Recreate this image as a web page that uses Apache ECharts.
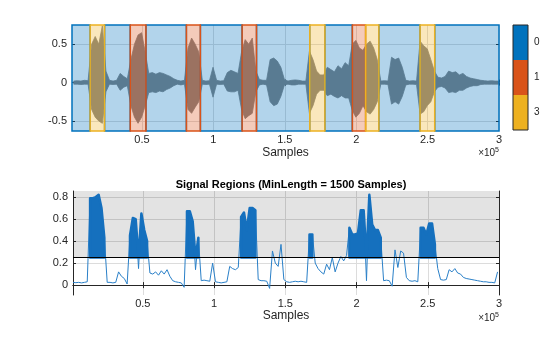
<!DOCTYPE html>
<html><head><meta charset="utf-8">
<script src="https://cdn.jsdelivr.net/npm/echarts@6/dist/echarts.min.js"></script>
<style>html,body{margin:0;padding:0;background:#fff}#c{width:560px;height:337px}</style>
</head><body><div id="c"></div>
<script>
// ---------- axes ----------
const xRange = [1000, 300000];
const xTicks = [50000, 100000, 150000, 200000, 250000, 300000];
const xTickLabels = ['0.5', '1', '1.5', '2', '2.5', '3'];
const topYRange = [-0.63, 0.75];
const topYTicks = [-0.5, 0, 0.5];
const topYTickLabels = ['-0.5', '0', '0.5'];
const bottomYRange = [-0.09, 0.855];
const bottomYTicks = [0, 0.2, 0.4, 0.6, 0.8];
const bottomYTickLabels = ['0', '0.2', '0.4', '0.6', '0.8'];
const xLabel = 'Samples';
const xExponent = '5';
const titleText = 'Signal Regions (MinLength = 1500 Samples)';

// ---------- top: waveform (per-bin max / min) ----------
const waveStart = 1000, waveStep = 2500;
const waveUpper = [0.02,0.025,0.02,0.03,0.025, 0.5,0.6,0.5,0.74,0.15, 0.03,0.02,0.03, 0.12,0.08,0.05,
  0.3,0.5,0.62,0.65,0.4, 0.12,0.13,0.11,0.13,0.12,0.1,0.08,0.05, 0.03,0.02,0.03, 0.45,0.58,0.5,0.4,
  0.03,0.02,0.025, 0.2, 0.03,0.02,0.025, 0.13,0.16,0.14,0.12, 0.4,0.56,0.5,0.58,0.15, 0.04,0.03,0.03,
  0.3,0.32,0.28,0.2, 0.04,0.02,0.03,0.035,0.03,0.02,0.02, 0.41,0.3,0.15,0.1,0.1,
  0.2,0.17,0.14,0.22,0.18,0.26,0.22, 0.5,0.55,0.45,0.42, 0.5,0.54,0.45,0.3, 0.02,0.025,0.02,
  0.33,0.3,0.32,0.2,0.03, 0.02,0.025,0.02, 0.54,0.48,0.44,0.3,0.15, 0.07,0.06,0.08,
  0.15,0.13,0.14,0.1,0.12,0.08, 0.06,0.05,0.04, 0.03,0.025,0.02,0.025,0.02,0.02];
const waveLower = [-0.02,-0.02,-0.025,-0.02,-0.02, -0.35,-0.45,-0.5,-0.53,-0.12, -0.02,-0.025,-0.02, -0.1,-0.06,-0.04,
  -0.3,-0.45,-0.53,-0.45,-0.3, -0.13,-0.12,-0.13,-0.11,-0.12,-0.09,-0.07,-0.04, -0.02,-0.03,-0.02, -0.35,-0.4,-0.32,-0.25,
  -0.02,-0.025,-0.02, -0.19, -0.02,-0.025,-0.02, -0.11,-0.12,-0.12,-0.1, -0.35,-0.47,-0.43,-0.4,-0.12, -0.03,-0.02,-0.03,
  -0.25,-0.3,-0.28,-0.18, -0.03,-0.02,-0.03,-0.03,-0.02,-0.02,-0.02, -0.4,-0.3,-0.15,-0.1,-0.1,
  -0.17,-0.15,-0.18,-0.2,-0.17,-0.2,-0.2, -0.36,-0.45,-0.4,-0.3, -0.38,-0.41,-0.35,-0.25, -0.02,-0.02,-0.025,
  -0.28,-0.25,-0.28,-0.18,-0.03, -0.02,-0.02,-0.025, -0.41,-0.38,-0.3,-0.25,-0.12, -0.06,-0.05,-0.07,
  -0.13,-0.12,-0.13,-0.1,-0.1,-0.07, -0.05,-0.04,-0.04, -0.025,-0.02,-0.02,-0.02,-0.02,-0.02];

// ---------- top: labelled regions ----------
const regionEdges = [1000, 13700, 23800, 41800, 52800, 81100, 90900, 120100, 130200, 167500, 178100,
  197300, 206600, 215900, 244700, 255000, 300000];
const regionLabels = [0, 3, 0, 1, 0, 1, 0, 1, 0, 3, 0, 1, 3, 0, 3, 0];
const labelNames = ['0', '1', '3'];
const labelColors = ['#0072BD', '#D95319', '#EDB120'];

// ---------- bottom: envelope ----------
const envStart = 1000, envStep = 2000;
const envelope = [0.025,0.022,0.025,0.02,0.025, 0.03, 0.79,0.79,0.80,0.82,0.70,0.43, 0.025,0.025,0.02,0.025,
  0.12,0.08,0.06,0.01, 0.45,0.61,0.60,0.15,0.65,0.50,0.40, 0.11,0.10,0.12,0.09,0.13,0.10,0.14,0.08,
  0.04,0.03,0.025,0.02,-0.02, 0.67,0.67,0.58,0.14,0.43, 0.04,0.045,0.04,0.035, 0.2,
  0.03,0.025,0.02,0.025,0.03, 0.17,0.15,0.14,0.16, 0.62,0.66,0.50,0.70,0.70,0.68, 0.05,0.04,0.04,0.035,
  -0.03, 0.31,0.20,0.17,0.37, 0.05,0.03,0.025,0.03,0.035,0.03,0.035,0.03,0.025, 0.46,0.46,
  0.20,0.15,0.12,0.10,0.19,0.14,0.25,0.12,0.20,0.26,0.22,0.27,
  0.52,0.46,0.46,0.47,0.68,0.68,0.04,0.82,0.55,0.50,0.50,0.43, 0.04,0.045,0.04,-0.01,
  0.32,0.16,0.31,0.29, 0.07,0.04,0.035,0.04,0.03, 0.52,0.52,0.46,0.56,0.56,0.37,
  0.15,0.05,0.045,0.05, 0.14,0.12,0.15,0.11,0.10,0.07,0.06,
  0.055,0.05,0.045,0.04,0.035,0.03,0.03,0.025,0.025,0.02, 0.12];
const threshold = 0.25;
const sigRegionStart = [11600, 40400, 79600, 117800, 166600, 194700, 243700];
const sigRegionEnd   = [23300, 54300, 90200, 129000, 170100, 217000, 255400];

// ---------- build ----------
const FONT = '"Liberation Sans", Arial, sans-serif';
const AX = '#262626';
const GRIDC = '#dcdcdc';
function rgba(hex, a) {
  const n = parseInt(hex.slice(1), 16);
  return 'rgba(' + ((n >> 16) & 255) + ',' + ((n >> 8) & 255) + ',' + (n & 255) + ',' + a + ')';
}
function lab(ticks, labels) { return v => { const k = ticks.findIndex(t => Math.abs(t - v) < 1e-9); return k >= 0 ? labels[k] : ''; }; }

const waveBins = waveUpper.map((u, i) => [waveStart + (i + 0.5) * waveStep, u, waveLower[i]]);
const segs = [];
for (let k = 0; k < regionLabels.length; k++) {
  segs.push([regionEdges[k], regionEdges[k + 1], labelNames.indexOf(String(regionLabels[k]))]);
}
segs.sort((a, b) => (a[2] === 0 ? 0 : 1) - (b[2] === 0 ? 0 : 1));

const envPts = envelope.map((v, i) => [envStart + i * envStep, v]);
const sigRegions = sigRegionStart.map((s, k) => [s, sigRegionEnd[k]]);

const tickStyle = { lineStyle: { color: AX, width: 1 } };
function xAx(grid, pos, main) {
  return {
    type: 'value', gridIndex: grid, position: pos, min: xRange[0], max: xRange[1],
    axisLine: { show: grid === 1, lineStyle: { color: AX, width: 1 } },
    axisTick: { show: true, inside: true, length: 3, customValues: xTicks, ...tickStyle },
    axisLabel: { show: main, customValues: xTicks, formatter: lab(xTicks, xTickLabels), margin: 3,
      fontFamily: FONT, fontSize: 11, color: AX },
    splitLine: { show: main, lineStyle: { color: GRIDC, width: 1 } },
    name: main ? xLabel : '', nameLocation: 'middle', nameGap: grid === 0 ? 16 : 15,
    nameTextStyle: { fontFamily: FONT, fontSize: 12, color: AX }
  };
}
function yAx(grid, pos, main, range, ticks, labels) {
  return {
    type: 'value', gridIndex: grid, position: pos, min: range[0], max: range[1],
    axisLine: { show: grid === 1, lineStyle: { color: AX, width: 1 } },
    axisTick: { show: true, inside: true, length: 3, customValues: ticks, ...tickStyle },
    axisLabel: { show: main, customValues: ticks, formatter: lab(ticks, labels), margin: 5,
      fontFamily: FONT, fontSize: 11, color: AX },
    splitLine: { show: main, lineStyle: { color: GRIDC, width: 1 } }
  };
}

const series = [
  // waveform as a filled max/min band
  { type: 'custom', xAxisIndex: 0, yAxisIndex: 0, data: [0], z: 2, silent: true,
    renderItem: function (params, api) {
      const pts = [];
      waveBins.forEach(b => pts.push(api.coord([b[0], b[1]])));
      for (let i = waveBins.length - 1; i >= 0; i--) pts.push(api.coord([waveBins[i][0], waveBins[i][2]]));
      return { type: 'polygon', shape: { points: pts },
        style: { fill: '#808080', stroke: '#808080', lineWidth: 0.8 } };
    } },
  { type: 'custom', xAxisIndex: 0, yAxisIndex: 0, data: segs, z: 3, silent: true,
    encode: { x: [0, 1] },
    renderItem: function (params, api) {
      const x0 = api.value(0), x1 = api.value(1), li = api.value(2);
      const p0 = api.coord([x0, topYRange[1]]);
      const p1 = api.coord([x1, topYRange[0]]);
      const c = labelColors[li];
      return { type: 'rect', shape: { x: p0[0], y: p0[1], width: p1[0] - p0[0], height: p1[1] - p0[1] },
        style: { fill: rgba(c, 0.3), stroke: c, lineWidth: 1.5 } };
    } },
  { type: 'line', xAxisIndex: 2, yAxisIndex: 2, data: envPts, showSymbol: false, symbol: 'none',
    lineStyle: { color: '#2a80c8', width: 1 }, z: 2, silent: true,
    markArea: { silent: true, itemStyle: { color: 'rgba(0,0,0,0.11)' },
      data: [[{ yAxis: threshold }, { yAxis: bottomYRange[1] }]] },
    markLine: { silent: true, symbol: ['none', 'none'], label: { show: false },
      lineStyle: { color: '#000', width: 1, type: 'solid' }, data: [{ yAxis: threshold }] } },
  { type: 'custom', xAxisIndex: 2, yAxisIndex: 2, data: sigRegions, z: 3, silent: true,
    encode: { x: [0, 1] },
    renderItem: function (params, api) {
      const s = api.value(0), e = api.value(1);
      const pts = [];
      envelope.forEach((v, i) => { const x = envStart + i * envStep; if (x >= s && x <= e) pts.push([x, Math.max(v, threshold)]); });
      if (!pts.length) return null;
      const poly = [api.coord([pts[0][0], threshold])];
      pts.forEach(p => poly.push(api.coord(p)));
      poly.push(api.coord([pts[pts.length - 1][0], threshold]));
      return { type: 'polygon', shape: { points: poly },
        style: { fill: '#1570be', stroke: '#1570be', lineWidth: 2.5, lineJoin: 'round' } };
    } }
];
labelNames.forEach((n, k) => series.push({
  type: 'bar', xAxisIndex: 4, yAxisIndex: 4, stack: 'cb', data: [1], barWidth: '100%',
  itemStyle: { color: labelColors[k] }, silent: true, z: 2
}));
const cbTicks = labelNames.map((n, k) => k + 0.5);

const option = {
  animation: false,
  backgroundColor: '#fff',
  title: { text: titleText, left: 286, top: 174, textAlign: 'center',
    textStyle: { fontFamily: FONT, fontSize: 11, fontWeight: 'bold', color: '#000' } },
  grid: [
    { left: 72, top: 25, width: 427, height: 106 },
    { left: 73, top: 191, width: 426, height: 104 },
    { left: 513, top: 25, width: 15, height: 105, show: true, borderColor: AX, borderWidth: 1, z: 10 }
  ],
  xAxis: [
    xAx(0, 'bottom', true), xAx(0, 'top', false),
    xAx(1, 'bottom', true), xAx(1, 'top', false),
    { type: 'category', gridIndex: 2, data: [''], show: false }
  ],
  yAxis: [
    yAx(0, 'left', true, topYRange, topYTicks, topYTickLabels),
    yAx(0, 'right', false, topYRange, topYTicks, topYTickLabels),
    yAx(1, 'left', true, bottomYRange, bottomYTicks, bottomYTickLabels),
    yAx(1, 'right', false, bottomYRange, bottomYTicks, bottomYTickLabels),
    { type: 'value', gridIndex: 2, position: 'right', min: 0, max: labelNames.length, inverse: true,
      axisLine: { show: false }, axisTick: { show: false }, splitLine: { show: false },
      axisLabel: { customValues: cbTicks, formatter: v => labelNames[Math.floor(v)], margin: 6,
        fontFamily: FONT, fontSize: 10, color: AX } }
  ],
  graphic: [
    { type: 'text', right: 61, top: 147, style: { text: '×10{s|' + xExponent + '}', font: '10px ' + FONT, fill: AX,
      rich: { s: { fontSize: 7, verticalAlign: 'top', lineHeight: 13 } } } },
    { type: 'text', right: 61, top: 312, style: { text: '×10{s|' + xExponent + '}', font: '10px ' + FONT, fill: AX,
      rich: { s: { fontSize: 7, verticalAlign: 'top', lineHeight: 13 } } } }
  ],
  series: series
};
const chart = echarts.init(document.getElementById('c'));
chart.setOption(option);
</script></body></html>
